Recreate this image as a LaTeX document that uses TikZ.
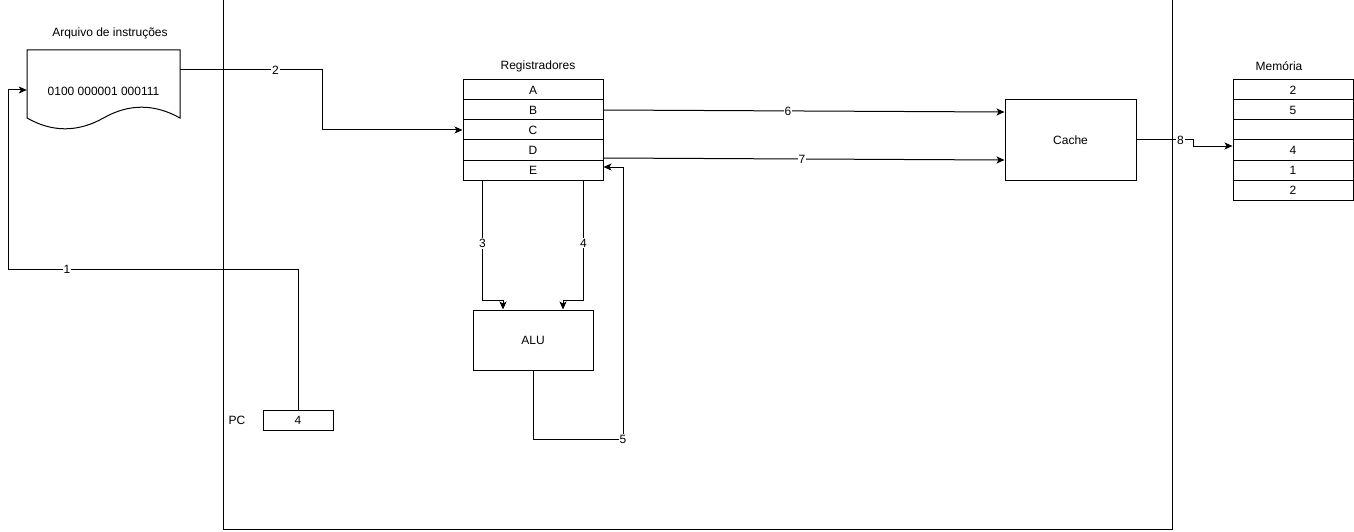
\documentclass[tikz,border=0pt]{standalone}
\usepackage{fontspec}
\setmainfont{Liberation Sans}
\usetikzlibrary{arrows.meta,calc}
\begin{document}
\begin{tikzpicture}[x=1pt,y=-1pt,
  every node/.style={font=\fontsize{12}{14}\selectfont, text=black},
  box/.style={draw, line width=1pt, inner sep=0pt, anchor=center},
  plain/.style={inner sep=0pt},
  lbl/.style={fill=white, inner sep=1pt},
  arr/.style={draw, line width=1pt, -{Stealth[length=8pt,width=7pt,inset=2pt]}},
  ln/.style={draw, line width=1pt}]
\useasboundingbox (0,0) rectangle (1354,532);
\fill[white] (0,0) rectangle (1354,532);

% outer box
\node[box, minimum width=949pt, minimum height=529pt] (cpu) at (697.5,264.5) {};

% instruction file (document shape)
\node[plain, minimum width=153pt, minimum height=80pt] (doc) at (103.5,90) {};
\draw[line width=1pt] (27,50) -- (180,50) -- (180,118)
  .. controls (154.3,103.6) and (128.8,103.6) .. (103.5,118)
  .. controls (77.8,132.4) and (52.3,132.4) .. (27,118) -- cycle;
\node[plain] (doctext) at (103.5,91) {0100 000001 000111};
\node[plain] (doctitle) at (110,33) {Arquivo de instruções};

% registers
\node[plain] (regtitle) at (538,66) {Registradores};
\foreach \n/\t/\y in {regA/A/90, regB/B/110, regC/C/130, regD/D/150, regE/E/170}{
  \node[box, minimum width=140pt, minimum height=20pt] (\n) at (533,\y) {\t};
}

% cache
\node[box, minimum width=131pt, minimum height=80pt] (cache) at (1070.5,140) {Cache};

% memory
\node[plain] (memtitle) at (1279,66) {Memória};
\foreach \n/\t/\y in {memA/2/90, memB/5/110, memC//130, memD/4/150, memE/1/170, memF/2/190}{
  \node[box, minimum width=120pt, minimum height=20pt] (\n) at (1293,\y) {\t};
}

% ALU
\node[box, minimum width=120pt, minimum height=60pt] (alu) at (533,340) {ALU};

% PC
\node[box, minimum width=70pt, minimum height=20pt] (pc) at (298,420) {4};
\node[plain] (pclabel) at (237,420) {PC};

% connectors
\draw[arr] ($(pc.north)$) -- ++(0,-140) -- node[lbl,pos=0.797]{1} ++(-290,0) |- (doc.west);
\draw[arr] ($(doc.north east)+(0,20)$) -- node[lbl,pos=0.67,yshift=-1pt]{2} ++(142,0) |- (regC.west);
\draw[arr] ($(regE.south west)+(20,0)$) -- node[lbl,pos=0.525]{3} ++(0,120) -| ($(alu.north)+(-30,0)$);
\draw[arr] ($(regE.south east)+(-20,0)$) -- node[lbl,pos=0.52]{4} ++(0,120) -| ($(alu.north)+(30,0)$);
\draw[arr] (alu.south) -- ++(0,69) -- node[lbl,pos=1]{5} ++(90,0) |- ($(regE.east)+(0,-3)$);
\draw[arr] (regB.east) -- node[lbl,pos=0.46]{6} ($(cache.west)+(0,-28)$);
\draw[arr] ($(regD.east)+(0,8)$) -- node[lbl,pos=0.495]{7} ($(cache.west)+(0,20)$);
\draw[arr] (cache.east) -- node[lbl,pos=0.77]{8} ++(57,0) |- ($(memD.west)+(0,-4)$);
\end{tikzpicture}
\end{document}
